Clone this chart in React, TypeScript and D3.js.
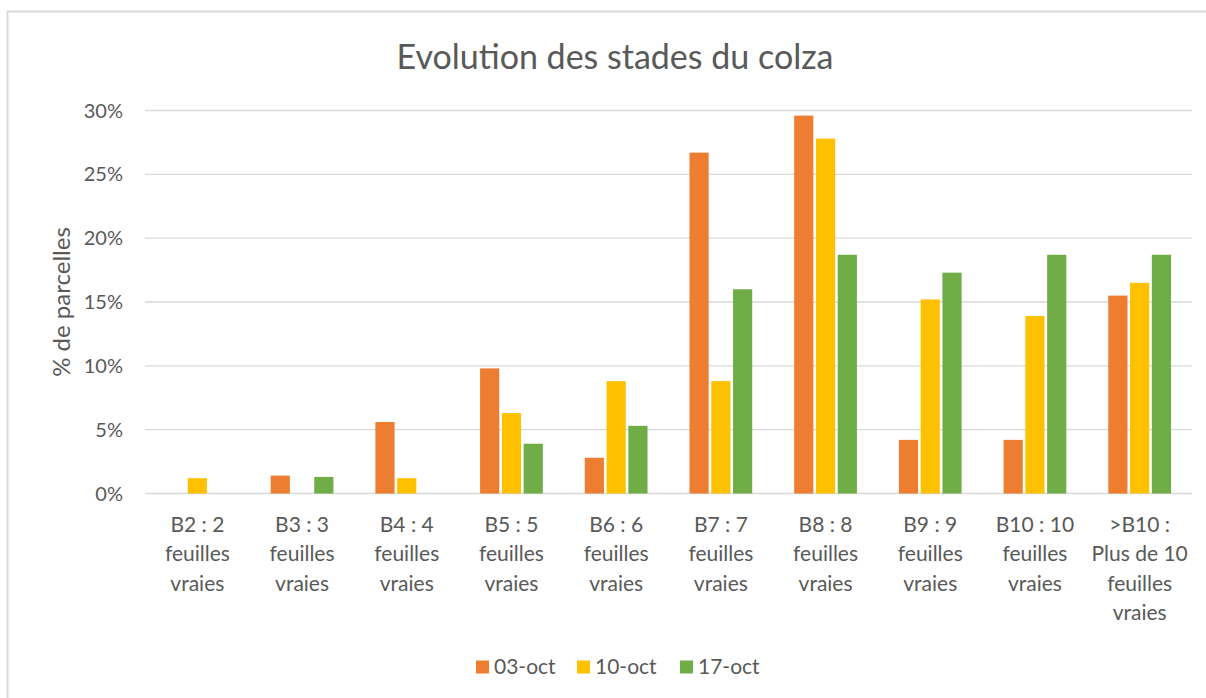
import React, { useRef, useEffect } from "react";
import * as d3 from "d3";

// categories (stade) as they wrap under the axis
const categories = ["B2", "B3", "B4", "B5", "B6", "B7", "B8", "B9", "B10", ">B10"];
const categoryLines = [
  ["B2 : 2", "feuilles", "vraies"],
  ["B3 : 3", "feuilles", "vraies"],
  ["B4 : 4", "feuilles", "vraies"],
  ["B5 : 5", "feuilles", "vraies"],
  ["B6 : 6", "feuilles", "vraies"],
  ["B7 : 7", "feuilles", "vraies"],
  ["B8 : 8", "feuilles", "vraies"],
  ["B9 : 9", "feuilles", "vraies"],
  ["B10 : 10", "feuilles", "vraies"],
  [">B10 :", "Plus de 10", "feuilles", "vraies"],
];

const seriesNames = ["03-oct", "10-oct", "17-oct"];
const seriesColors = ["#ED7D31", "#FFC000", "#70AD47"];

const oct03 = [0, 1.4, 5.6, 9.8, 2.8, 26.7, 29.6, 4.2, 4.2, 15.5];
const oct10 = [1.2, 0, 1.2, 6.3, 8.8, 8.8, 27.8, 15.2, 13.9, 16.5];
const oct17 = [0, 1.3, 0, 3.9, 5.3, 16.0, 18.7, 17.3, 18.7, 18.7];

const yTicks = [0, 5, 10, 15, 20, 25, 30];

const W = 1206;
const H = 698;
const FONT = "Lato, 'Open Sans', sans-serif";
const TEXT = "#595959";

const App = () => {
  const svgRef = useRef(null);

  useEffect(() => {
    const margin = { top: 110.5, left: 145, right: 14, bottom: 204.5 };
    const width = W - margin.left - margin.right;
    const height = H - margin.top - margin.bottom;

    const svg = d3.select(svgRef.current);
    svg.selectAll("*").remove();

    // chart frame (only top and left edges are visible in the crop)
    svg.append("rect")
      .attr("x", 7.5).attr("y", 11.5)
      .attr("width", W + 20).attr("height", H + 20)
      .attr("fill", "white")
      .attr("stroke", "#d9d9d9")
      .attr("stroke-width", 2);

    svg.append("text")
      .attr("x", 615).attr("y", 69)
      .attr("text-anchor", "middle")
      .attr("font-family", FONT)
      .attr("font-size", 34)
      .attr("fill", TEXT)
      .text("Evolution des stades du colza");

    const g = svg.append("g").attr("transform", `translate(${margin.left},${margin.top})`);

    const x = d3.scaleBand().domain(categories).range([0, width]).paddingInner(0.376).paddingOuter(0.188);
    const xs = d3.scaleBand().domain(seriesNames).range([0, x.bandwidth()]);
    const y = d3.scaleLinear().domain([0, 30]).range([height, 0]);

    // gridlines
    g.selectAll(".grid")
      .data(yTicks)
      .enter()
      .append("line")
      .attr("x1", 0).attr("x2", width)
      .attr("y1", (d) => y(d)).attr("y2", (d) => y(d))
      .attr("stroke", "#d9d9d9")
      .attr("stroke-width", 1.3);

    // y tick labels
    g.selectAll(".ytick")
      .data(yTicks)
      .enter()
      .append("text")
      .attr("x", -22)
      .attr("y", (d) => y(d))
      .attr("dy", "0.35em")
      .attr("text-anchor", "end")
      .attr("font-family", FONT)
      .attr("font-size", 20)
      .attr("fill", TEXT)
      .text((d) => d + "%");

    svg.append("text")
      .attr("transform", `translate(70,${302}) rotate(-90)`)
      .attr("text-anchor", "middle")
      .attr("font-family", FONT)
      .attr("font-size", 24)
      .attr("fill", TEXT)
      .text("% de parcelles");

    const series = [oct03, oct10, oct17];
    const rows = [];
    series.forEach((vals, si) => {
      vals.forEach((v, ci) => {
        rows.push({ cat: categories[ci], name: seriesNames[si], color: seriesColors[si], v });
      });
    });

    g.selectAll(".bar")
      .data(rows.filter((d) => d.v > 0))
      .enter()
      .append("rect")
      .attr("class", "bar")
      .attr("x", (d) => x(d.cat) + xs(d.name) + 1.3)
      .attr("y", (d) => y(d.v))
      .attr("width", xs.bandwidth() - 2.6)
      .attr("height", (d) => height - y(d.v))
      .attr("fill", (d) => d.color);

    // category labels
    const lab = g.selectAll(".xlab")
      .data(categories)
      .enter()
      .append("text")
      .attr("text-anchor", "middle")
      .attr("font-family", FONT)
      .attr("font-size", 21)
      .attr("fill", TEXT)
      .attr("transform", (d) => `translate(${x(d) + x.bandwidth() / 2},${height + 38})`);
    lab.each(function (d, i) {
      d3.select(this)
        .selectAll("tspan")
        .data(categoryLines[i])
        .enter()
        .append("tspan")
        .attr("x", 0)
        .attr("y", (_, j) => j * 29.5)
        .text((t) => t);
    });

    // legend
    const legendX = [476, 577, 680];
    const leg = svg.selectAll(".leg")
      .data(seriesNames)
      .enter()
      .append("g")
      .attr("transform", (d, i) => `translate(${legendX[i]},667)`);
    leg.append("rect")
      .attr("x", 0).attr("y", -6.5)
      .attr("width", 13).attr("height", 13)
      .attr("fill", (d, i) => seriesColors[i]);
    leg.append("text")
      .attr("x", 18)
      .attr("dy", "0.35em")
      .attr("font-family", FONT)
      .attr("font-size", 21)
      .attr("fill", TEXT)
      .text((d) => d);
  }, []);

  return (
    <svg
      ref={svgRef}
      width={W}
      height={H}
      style={{ position: "absolute", left: 0, top: 0, background: "white" }}
    ></svg>
  );
};

export default App;
